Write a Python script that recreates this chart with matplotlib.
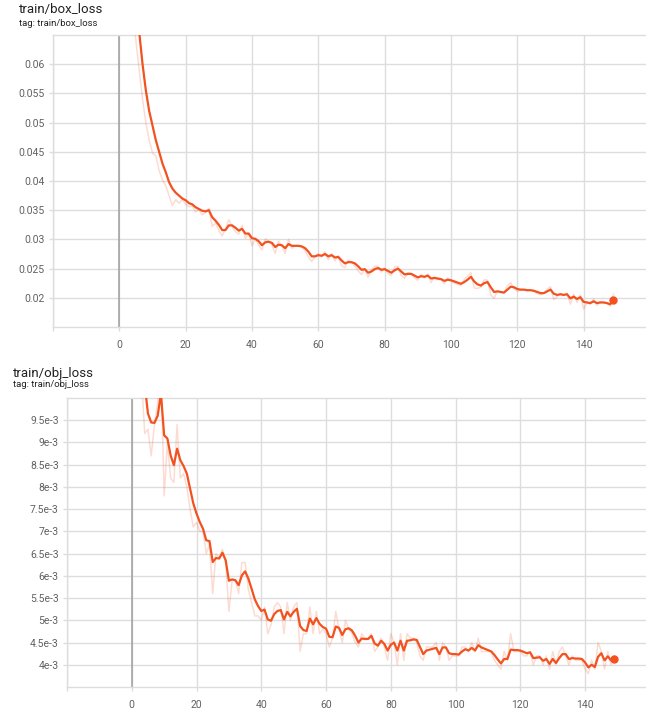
import numpy as np
import matplotlib
matplotlib.use("Agg")
import matplotlib.pyplot as plt

plt.rcParams["font.family"] = ["Roboto", "DejaVu Sans"]

# ---- data ----
epochs = np.arange(150)

box_smooth = [
    0.105, 0.098, 0.090, 0.083, 0.076, 0.070, 0.0655, 0.060, 0.0555, 0.052,
    0.0495, 0.047, 0.045, 0.043, 0.0415, 0.0398, 0.0387, 0.038, 0.0375, 0.037,
    0.0367, 0.0362, 0.036, 0.0355, 0.0352, 0.0349, 0.0348, 0.035, 0.0338, 0.0332,
    0.0325, 0.0316, 0.0316, 0.0324, 0.0324, 0.032, 0.0315, 0.0318, 0.031, 0.031,
    0.0302, 0.0301, 0.0297, 0.029, 0.0295, 0.0296, 0.0294, 0.0287, 0.0291, 0.029,
    0.0285, 0.0292, 0.0289, 0.0289, 0.0289, 0.0288, 0.0285, 0.0279, 0.0271, 0.0271,
    0.0273, 0.0272, 0.0275, 0.0271, 0.0273, 0.0269, 0.0270, 0.0264, 0.0259, 0.0261,
    0.0261, 0.0259, 0.0254, 0.0248, 0.0249, 0.0243, 0.0245, 0.0249, 0.0251, 0.0248,
    0.0249, 0.0246, 0.0243, 0.0247, 0.025, 0.0245, 0.0240, 0.0241, 0.0241, 0.0238,
    0.0235, 0.0237, 0.0236, 0.0238, 0.0233, 0.0234, 0.0233, 0.0232, 0.0229, 0.0231,
    0.0230, 0.0228, 0.0226, 0.0224, 0.0227, 0.0231, 0.0236, 0.0228, 0.0223, 0.0221,
    0.0225, 0.0227, 0.0218, 0.021, 0.0211, 0.0210, 0.0209, 0.0214, 0.0219, 0.0218,
    0.0215, 0.0214, 0.0214, 0.0213, 0.0213, 0.0212, 0.021, 0.0208, 0.0208, 0.0211,
    0.0214, 0.0207, 0.0205, 0.0206, 0.0205, 0.0206, 0.0199, 0.0202, 0.0198, 0.0201,
    0.0193, 0.0192, 0.0191, 0.0194, 0.0191, 0.0192, 0.0192, 0.0191, 0.0189, 0.0196,
]
box_raw = [
    0.100, 0.092, 0.084, 0.077, 0.069, 0.064, 0.059, 0.054, 0.050, 0.047,
    0.0448, 0.0443, 0.0418, 0.0402, 0.0392, 0.0375, 0.0358, 0.0368, 0.0362, 0.0368,
    0.0360, 0.0356, 0.0357, 0.0347, 0.0351, 0.0342, 0.0346, 0.0353, 0.0322, 0.0328,
    0.0315, 0.0306, 0.0318, 0.0334, 0.0322, 0.0313, 0.0309, 0.0324, 0.0302, 0.0309,
    0.0289, 0.0301, 0.0290, 0.0282, 0.0301, 0.0297, 0.0291, 0.0276, 0.0297, 0.0289,
    0.0276, 0.0300, 0.0285, 0.0289, 0.0289, 0.0287, 0.0280, 0.0270, 0.0262, 0.0271,
    0.0276, 0.0270, 0.0279, 0.0265, 0.0276, 0.0263, 0.0272, 0.0255, 0.0252, 0.0264,
    0.0261, 0.0255, 0.0246, 0.0240, 0.0250, 0.0235, 0.0248, 0.0254, 0.0254, 0.0244,
    0.0251, 0.0242, 0.0238, 0.0253, 0.0254, 0.0238, 0.0233, 0.0243, 0.0241, 0.0234,
    0.0230, 0.0240, 0.0234, 0.0241, 0.0226, 0.0236, 0.0231, 0.0231, 0.0224, 0.0234,
    0.0229, 0.0225, 0.0223, 0.0221, 0.0232, 0.0237, 0.0243, 0.0217, 0.0216, 0.0218,
    0.0231, 0.0230, 0.0205, 0.0199, 0.0212, 0.0209, 0.0208, 0.0221, 0.0226, 0.0216,
    0.0211, 0.0213, 0.0214, 0.0212, 0.0213, 0.0211, 0.0207, 0.0205, 0.0208, 0.0215,
    0.0219, 0.0197, 0.0202, 0.0207, 0.0204, 0.0208, 0.0189, 0.0206, 0.0192, 0.0205,
    0.0181, 0.0191, 0.0189, 0.0198, 0.0187, 0.0193, 0.0192, 0.0190, 0.0186, 0.0206,
]

obj_smooth = [
    0.0150, 0.0135, 0.0122, 0.0112, 0.0103, 0.00965, 0.00945, 0.00944, 0.0096, 0.0101,
    0.00916, 0.00909, 0.00871, 0.00849, 0.00886, 0.0086, 0.00847, 0.0083, 0.00796, 0.00763,
    0.0074, 0.00721, 0.00706, 0.0068, 0.00678, 0.00631, 0.0064, 0.00639, 0.00652, 0.00635,
    0.00589, 0.00592, 0.0059, 0.00579, 0.00601, 0.0061, 0.00594, 0.00571, 0.00547, 0.00532,
    0.00521, 0.00524, 0.00502, 0.00499, 0.00514, 0.00521, 0.00523, 0.00502, 0.00519, 0.00509,
    0.00519, 0.00526, 0.00487, 0.00478, 0.00476, 0.00504, 0.00491, 0.00505, 0.00492, 0.00485,
    0.00481, 0.00463, 0.00462, 0.00486, 0.00483, 0.00467, 0.0048, 0.00482, 0.00477, 0.00465,
    0.0045, 0.00459, 0.00458, 0.00458, 0.00465, 0.00448, 0.00443, 0.00454, 0.00447, 0.00432,
    0.00445, 0.0045, 0.00432, 0.00454, 0.00432, 0.00454, 0.00455, 0.00457, 0.00456, 0.0044,
    0.00424, 0.00432, 0.00434, 0.00436, 0.00438, 0.00424, 0.00439, 0.00439, 0.00426, 0.00424,
    0.00424, 0.00423, 0.0043, 0.00435, 0.00432, 0.00438, 0.00432, 0.00444, 0.00439, 0.00436,
    0.00433, 0.0043, 0.00422, 0.00412, 0.00403, 0.00413, 0.00413, 0.00434, 0.00433, 0.00433,
    0.00432, 0.00429, 0.00426, 0.00428, 0.00415, 0.00416, 0.00417, 0.00409, 0.00413, 0.00402,
    0.00413, 0.00404, 0.00415, 0.00424, 0.00424, 0.00413, 0.00415, 0.00414, 0.00414, 0.00413,
    0.00405, 0.00394, 0.004, 0.00395, 0.00418, 0.00426, 0.0041, 0.00419, 0.0041, 0.00413,
]
obj_raw = [
    0.0145, 0.0128, 0.0115, 0.0105, 0.0092, 0.0093, 0.0087, 0.0094, 0.0099, 0.0108,
    0.0078, 0.0090, 0.0082, 0.0081, 0.0094, 0.0082, 0.0083, 0.0080, 0.0075, 0.0071,
    0.0072, 0.0070, 0.0070, 0.0065, 0.0067, 0.0056, 0.0065, 0.0064, 0.0066, 0.0063,
    0.0052, 0.0059, 0.0059, 0.0056, 0.0063, 0.0063, 0.0057, 0.0054, 0.0051, 0.0051,
    0.0050, 0.0053, 0.0047, 0.0049, 0.0053, 0.0054, 0.0053, 0.0047, 0.0054, 0.0050,
    0.0053, 0.0054, 0.0043, 0.0047, 0.0047, 0.0053, 0.0047, 0.0052, 0.0047, 0.0048,
    0.0047, 0.0044, 0.0046, 0.0052, 0.0048, 0.0045, 0.0050, 0.0048, 0.0047, 0.0045,
    0.0044, 0.0047, 0.0046, 0.0046, 0.0047, 0.0043, 0.0044, 0.0046, 0.0044, 0.0041,
    0.0047, 0.0045, 0.0040, 0.0047, 0.0041, 0.0047, 0.0046, 0.0046, 0.0045, 0.0042,
    0.0041, 0.0044, 0.0044, 0.0044, 0.0045, 0.0041, 0.0045, 0.0044, 0.0041, 0.0042,
    0.0042, 0.0042, 0.0044, 0.0044, 0.0043, 0.0045, 0.0043, 0.0046, 0.0043, 0.0043,
    0.0043, 0.0043, 0.0041, 0.0040, 0.0039, 0.0043, 0.0041, 0.0047, 0.0043, 0.0043,
    0.0043, 0.0042, 0.0042, 0.0043, 0.0040, 0.0042, 0.0042, 0.0040, 0.0042, 0.0039,
    0.0043, 0.0040, 0.0043, 0.0044, 0.0042, 0.0040, 0.0042, 0.0041, 0.0041, 0.0041,
    0.0039, 0.0038, 0.0041, 0.0039, 0.0045, 0.0043, 0.0039, 0.0043, 0.0040, 0.0042,
]

x_ticks = [0, 20, 40, 60, 80, 100, 120, 140]

box_yticks = [0.02, 0.025, 0.03, 0.035, 0.04, 0.045, 0.05, 0.055, 0.06]
box_ylabels = ["0.02", "0.025", "0.03", "0.035", "0.04", "0.045", "0.05", "0.055", "0.06"]

obj_yticks = [0.004, 0.0045, 0.005, 0.0055, 0.006, 0.0065, 0.007, 0.0075,
              0.008, 0.0085, 0.009, 0.0095]
obj_ylabels = ["4e-3", "4.5e-3", "5e-3", "5.5e-3", "6e-3", "6.5e-3", "7e-3",
               "7.5e-3", "8e-3", "8.5e-3", "9e-3", "9.5e-3"]

LINE = "#f2521f"
GRID = "#dddddd"
TICK = "#616161"


def draw(ax, raw, smooth, ylim, yticks, ylabels, xlim):
    ax.plot(epochs, raw, color=LINE, lw=1.1, alpha=0.2, zorder=3)
    ax.plot(epochs, smooth, color=LINE, lw=1.6, zorder=4)
    ax.plot(epochs[-1], smooth[-1], "o", color=LINE, ms=5, zorder=5)
    ax.set_xlim(*xlim)
    ax.set_ylim(*ylim)
    ax.set_xticks([-20] + x_ticks)
    ax.set_xticklabels([""] + [str(v) for v in x_ticks])
    ax.set_yticks(yticks)
    ax.set_yticklabels(ylabels)
    ax.grid(True, color=GRID, lw=1.0)
    ax.axvline(0, color="#9e9e9e", lw=1.1, zorder=2)
    for side in ["left", "top", "bottom"]:
        ax.spines[side].set_color(GRID)
        ax.spines[side].set_linewidth(1.0)
    ax.spines["right"].set_visible(False)
    ax.tick_params(axis="both", colors=GRID, labelcolor=TICK, labelsize=7.5,
                   length=3, width=1.0, pad=3)
    ax.tick_params(axis="x", pad=6)
    ax.set_axisbelow(True)


fig = plt.figure(figsize=(6.46, 7.08), dpi=100)

ax1 = fig.add_axes([53 / 646, 1 - 327 / 708, 1 - 53 / 646, 292 / 708])
draw(ax1, box_raw, box_smooth, (0.015, 0.065), box_yticks, box_ylabels, (-19.9, 158.8))
fig.text(19 / 646, 1 - 10 / 708, "train/box_loss", fontsize=9.5, color="#212121", va="center")
fig.text(19 / 646, 1 - 23 / 708, "tag: train/box_loss", fontsize=6.8, color="#212121", va="center")

ax2 = fig.add_axes([67 / 646, 1 - 687 / 708, 1 - 67 / 646, 289 / 708])
draw(ax2, obj_raw, obj_smooth, (0.0035, 0.01), obj_yticks, obj_ylabels, (-20, 158.8))
fig.text(13 / 646, 1 - 373 / 708, "train/obj_loss", fontsize=9.5, color="#212121", va="center")
fig.text(13 / 646, 1 - 385 / 708, "tag: train/obj_loss", fontsize=6.8, color="#212121", va="center")

fig.savefig("out.png", dpi=100)
